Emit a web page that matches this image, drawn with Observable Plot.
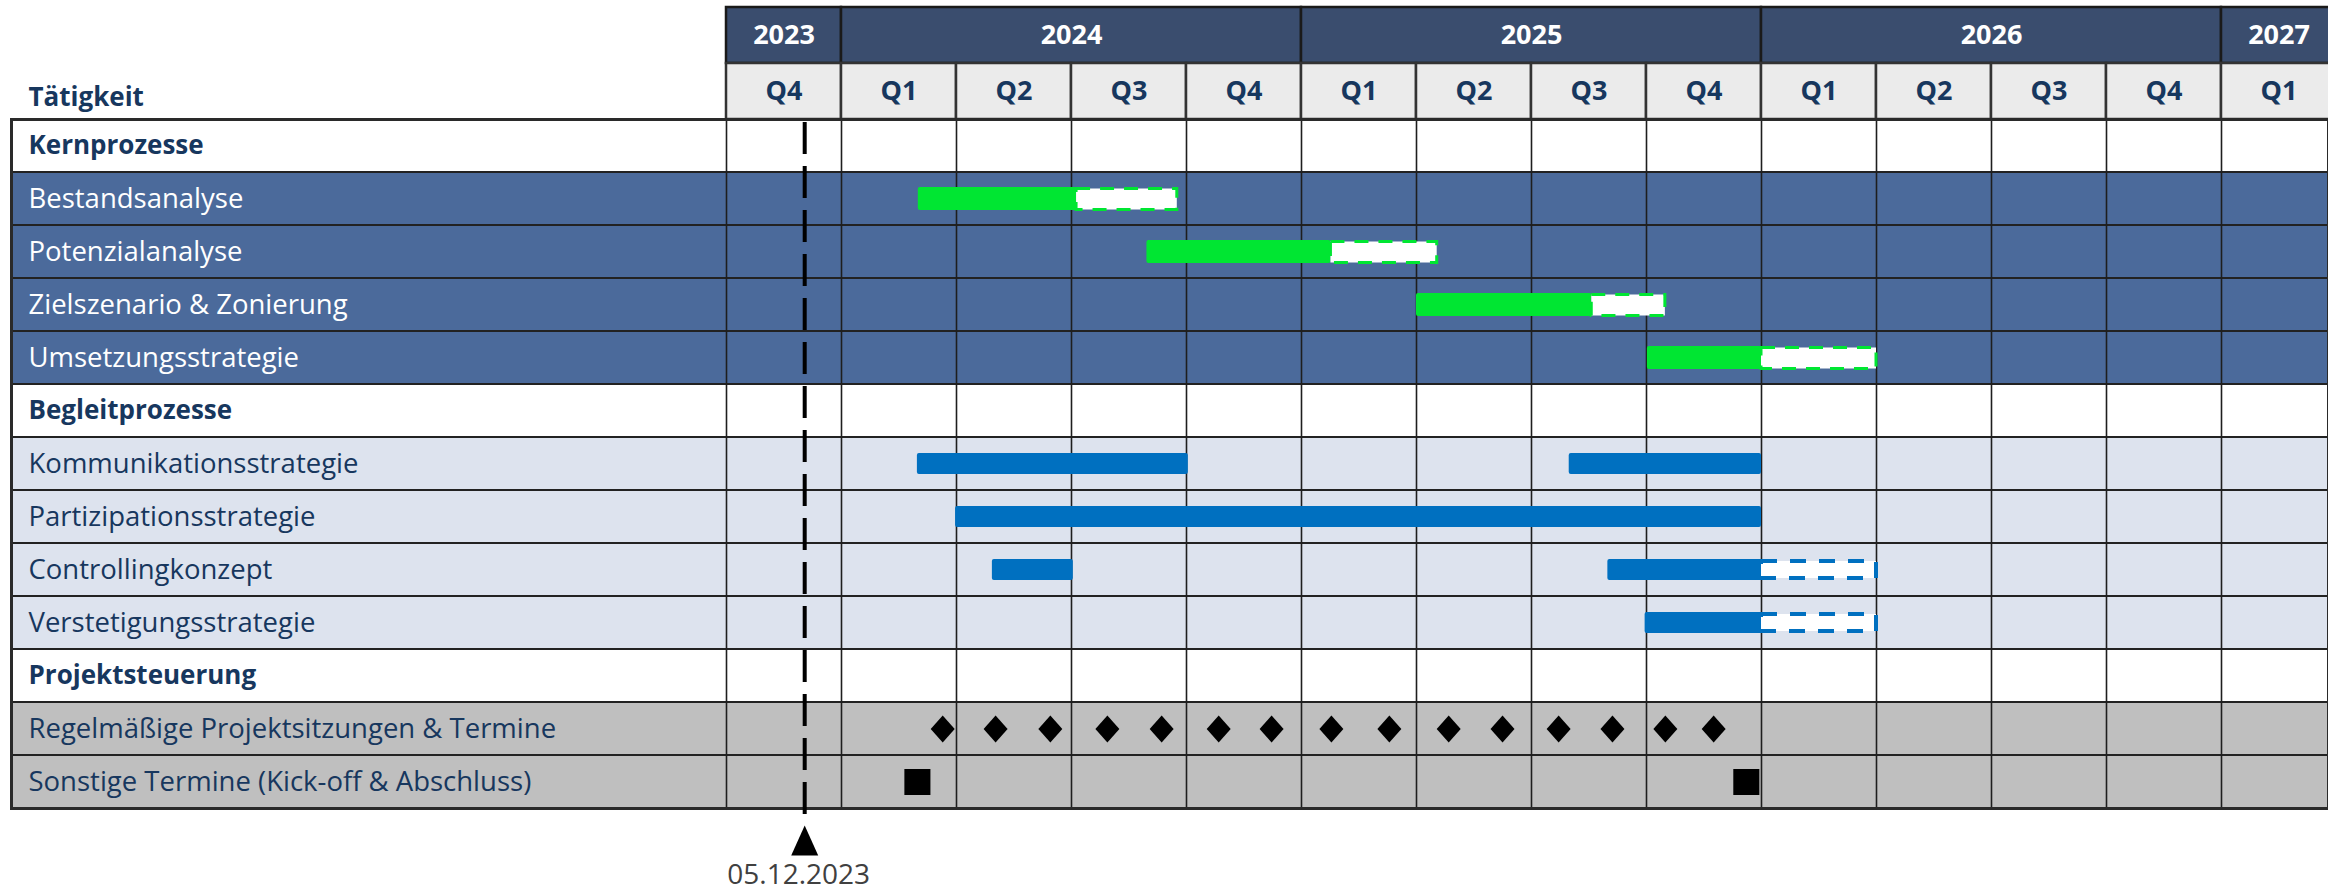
<!DOCTYPE html>
<html>
<head>
<meta charset="utf-8">
<script src="https://cdn.jsdelivr.net/npm/d3@7"></script>
<script src="https://cdn.jsdelivr.net/npm/@observablehq/plot@0.6"></script>
<style>
  html, body { margin: 0; padding: 0; background: #ffffff; }
  #wrap { position: relative; width: 2328px; height: 894px; overflow: hidden; }
  #wrap svg { position: absolute; left: 0; top: 0; background: transparent; }
</style>
</head>
<body>
<div id="wrap"></div>
<script>
// ---------- DATA ----------
const years = [2023, 2024, 2025, 2026, 2027];
const quarterYears = [2023, 2024, 2024, 2024, 2024, 2025, 2025, 2025, 2025, 2026, 2026, 2026, 2026, 2027];
const quarterNums  = [4, 1, 2, 3, 4, 1, 2, 3, 4, 1, 2, 3, 4, 1];
const headerLabel = "Tätigkeit";

const rowLabels = [
  "Kernprozesse",
  "Bestandsanalyse",
  "Potenzialanalyse",
  "Zielszenario & Zonierung",
  "Umsetzungsstrategie",
  "Begleitprozesse",
  "Kommunikationsstrategie",
  "Partizipationsstrategie",
  "Controllingkonzept",
  "Verstetigungsstrategie",
  "Projektsteuerung",
  "Regelmäßige Projektsitzungen & Termine",
  "Sonstige Termine (Kick-off & Abschluss)"
];
const rowGroups = ["head", "core", "core", "core", "core", "head", "support", "support", "support", "support", "head", "steer", "steer"];

// Kernprozesse (green): start, end of solid part, end of dashed part (decimal years)
const coreTasks    = ["Bestandsanalyse", "Potenzialanalyse", "Zielszenario & Zonierung", "Umsetzungsstrategie"];
const coreStart    = [2024.167, 2024.664, 2025.25, 2025.752];
const coreSolidEnd = [2024.511, 2025.064, 2025.631, 2026.0];
const coreEnd      = [2024.73, 2025.295, 2025.791, 2026.25];

// Begleitprozesse (blue) solid segments
const supportTasks = ["Kommunikationsstrategie", "Kommunikationsstrategie", "Partizipationsstrategie", "Controllingkonzept", "Controllingkonzept", "Verstetigungsstrategie"];
const supportStart = [2024.165, 2025.582, 2024.248, 2024.328, 2025.666, 2025.747];
const supportEnd   = [2024.754, 2026.0, 2026.0, 2024.504, 2026.0, 2026.0];
// Begleitprozesse dashed (optional) segments
const optionTasks = ["Controllingkonzept", "Verstetigungsstrategie"];
const optionStart = [2026.0, 2026.0];
const optionEnd   = [2026.25, 2026.25];

// Projektsteuerung
const meetingRow = "Regelmäßige Projektsitzungen & Termine";
const meetingDates = [2024.22, 2024.335, 2024.454, 2024.578, 2024.696, 2024.82, 2024.935, 2025.065, 2025.191, 2025.32, 2025.437, 2025.559, 2025.676, 2025.791, 2025.896];
const milestoneRow = "Sonstige Termine (Kick-off & Abschluss)";
const milestoneDates = [2024.165, 2025.967];

const today = 2023.92;
const todayLabel = "05.12.2023";

// ---------- STYLE ----------
const FONT = "'Open Sans', 'Noto Sans', sans-serif";
const NAVY = "#17375e";
const GREEN = "#00e632";
const BLUE = "#0070c0";
const groupFill = {head: "#ffffff", core: "#4b6a9b", support: "#dde3ee", steer: "#bfbfbf"};
const xDomain = [2023.75, 2027.25];
const xRange = [726, 2336];

// ---------- DERIVED TABLES ----------
const yearCells = years.map(y => ({year: y, x1: Math.max(y, xDomain[0]), x2: Math.min(y + 1, xDomain[1])}));
const quarterCells = quarterYears.map((y, i) => ({label: "Q" + quarterNums[i], start: y + (quarterNums[i] - 1) / 4}));
const rows = rowLabels.map((l, i) => ({label: l, group: rowGroups[i]}));
const core = coreTasks.map((t, i) => ({task: t, start: coreStart[i], mid: coreSolidEnd[i], end: coreEnd[i]}));
const support = supportTasks.map((t, i) => ({task: t, start: supportStart[i], end: supportEnd[i]}));
const option = optionTasks.map((t, i) => ({task: t, start: optionStart[i], end: optionEnd[i]}));
const gridLines = quarterCells.map(d => d.start);

const diamond = {draw(ctx) { const w = 12, h = 13.5; ctx.moveTo(0, -h); ctx.lineTo(w, 0); ctx.lineTo(0, h); ctx.lineTo(-w, 0); ctx.closePath(); }};
const triangle = {draw(ctx) { ctx.moveTo(0, -15); ctx.lineTo(13.5, 15); ctx.lineTo(-13.5, 15); ctx.closePath(); }};

// ---------- HEADER ----------
const header = Plot.plot({
  width: 2328, height: 122,
  marginTop: 6, marginBottom: 3, marginLeft: 11, marginRight: 0,
  style: {fontFamily: FONT, background: "transparent"},
  x: {domain: xDomain, range: xRange, axis: null},
  y: {domain: ["Jahr", "Quartal"], padding: 0, axis: null},
  marks: [
    Plot.barX(yearCells, {x1: "x1", x2: "x2", y: () => "Jahr", fill: "#3a4d6e", stroke: "#1a1a1a", strokeWidth: 2.5, inset: 0}),
    Plot.text(yearCells, {x: d => (d.x1 + d.x2) / 2, y: () => "Jahr", text: d => String(d.year), fill: "white", fontWeight: "bold", fontSize: 27, fontFamily: FONT}),
    Plot.barX(quarterCells, {x1: "start", x2: d => d.start + 0.25, y: () => "Quartal", fill: "#ebebeb", stroke: "#333", strokeWidth: 2.5, inset: 0}),
    Plot.text(quarterCells, {x: d => d.start + 0.125, y: () => "Quartal", text: "label", fill: NAVY, fontWeight: "bold", fontSize: 27, fontFamily: FONT}),
    Plot.text([headerLabel], {y: () => "Quartal", text: d => d, frameAnchor: "left", dx: 17, dy: 6, fill: NAVY, fontWeight: "bold", fontSize: 26, fontFamily: FONT})
  ]
});

// ---------- BODY ----------
const body = Plot.plot({
  width: 2328, height: 894,
  marginTop: 119, marginBottom: 86, marginLeft: 11, marginRight: 0,
  style: {fontFamily: FONT, background: "transparent"},
  x: {domain: xDomain, range: xRange, axis: null},
  y: {domain: rowLabels, padding: 0, axis: null},
  color: {type: "identity"},
  marks: [
    Plot.cell(rows, {y: "label", fill: d => groupFill[d.group], stroke: "#222", strokeWidth: 2, inset: 0}),
    Plot.ruleX(gridLines, {x: d => d, stroke: "#1e1e1e", strokeWidth: 1.6}),
    Plot.frame({stroke: "#2a2a2a", strokeWidth: 3}),
    // green core process bars
    Plot.barX(core, {x1: "start", x2: "mid", y: "task", fill: GREEN, insetTop: 15, insetBottom: 15, rx: 2}),
    Plot.barX(core, {x1: "mid", x2: "end", y: "task", fill: "white", stroke: GREEN, strokeWidth: 3, strokeDasharray: "14,10", insetTop: 16.5, insetBottom: 15.5}),
    // blue support bars
    Plot.barX(support, {x1: "start", x2: "end", y: "task", fill: BLUE, insetTop: 16, insetBottom: 16, rx: 2}),
    Plot.barX(option, {x1: "start", x2: "end", y: "task", fill: "white", stroke: BLUE, strokeWidth: 4, strokeDasharray: "16,13", insetTop: 18, insetBottom: 18}),
    // meetings and milestones
    Plot.dot(meetingDates, {x: d => d, y: () => meetingRow, symbol: diamond, fill: "black", stroke: "none"}),
    Plot.dot(milestoneDates, {x: d => d, y: () => milestoneRow, symbol: "square", r: 14.7, fill: "black", stroke: "none"}),
    // today marker
    Plot.ruleX([today], {x: d => d, stroke: "black", strokeWidth: 4, strokeDasharray: "32,12", insetTop: 3, insetBottom: -14}),
    Plot.dot([today], {x: d => d, frameAnchor: "bottom", dy: 32, symbol: triangle, fill: "black", stroke: "none"}),
    Plot.text([todayLabel], {x: () => today, text: d => d, frameAnchor: "bottom", dy: 75, dx: -6, fill: "#404040", fontSize: 28, fontFamily: FONT}),
    // row labels
    Plot.text(rows, {filter: d => d.group === "head", y: "label", text: "label", frameAnchor: "left", dx: 17, fill: NAVY, fontWeight: "bold", fontSize: 26, fontFamily: FONT}),
    Plot.text(rows, {filter: d => d.group === "core", y: "label", text: "label", frameAnchor: "left", dx: 17, fill: "white", fontSize: 27.5, fontFamily: FONT}),
    Plot.text(rows, {filter: d => d.group === "support" || d.group === "steer", y: "label", text: "label", frameAnchor: "left", dx: 17, fill: NAVY, fontSize: 27.5, fontFamily: FONT})
  ]
});

const wrap = document.getElementById("wrap");
wrap.appendChild(header);
wrap.appendChild(body);
</script>
</body>
</html>
